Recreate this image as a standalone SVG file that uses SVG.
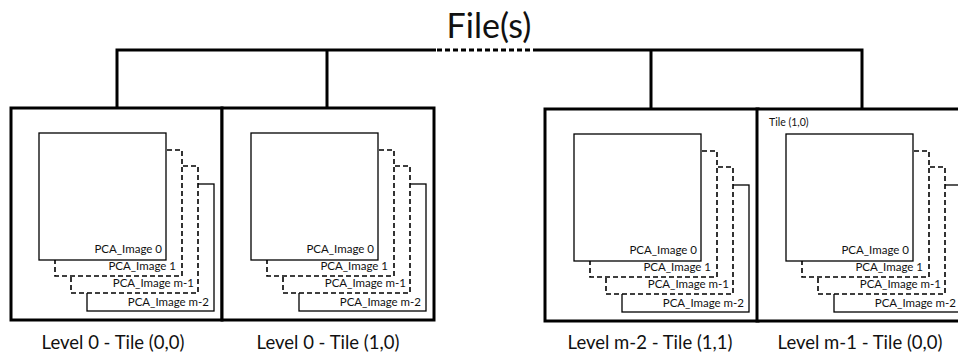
<svg xmlns="http://www.w3.org/2000/svg" width="958" height="358" viewBox="0 0 958 358">
<style>
.box{fill:#fff;stroke:#000;stroke-width:3}
.img{fill:#fff;stroke:#000;stroke-width:1.3}
.dash{fill:#fff;stroke:#000;stroke-width:1.6;stroke-dasharray:5,3}
.lbl{font-family:Lato,"Liberation Sans",sans-serif;font-size:11.5px;fill:#111;text-anchor:end}
.cap{font-family:Lato,"Liberation Sans",sans-serif;font-size:18.5px;fill:#111;text-anchor:middle}
.con{fill:none;stroke:#000;stroke-width:3}
</style>
<defs>
<g id="stack">
<rect class="img" x="48" y="51" width="127" height="127"/>
<rect class="dash" x="32" y="33" width="127" height="127"/>
<rect class="dash" x="16" y="17" width="127" height="126"/>
<rect class="img" x="0" y="0" width="127" height="127"/>
</g>
</defs>
<text x="489" y="38" style="font-family:Lato,'Liberation Sans',sans-serif;font-size:34px;fill:#111;text-anchor:middle">File(s)</text>
<g id="connectors">
<path class="con" d="M117,108 V50 H436 M538,50 H862 V108 M327,50 V108 M651,50 V108"/>
<path class="con" d="M437,50 H538" stroke-dasharray="5,3"/>
</g>
<g id="tile-0-0">
<rect class="box" x="11" y="108" width="211" height="212"/>
<g transform="translate(39,133)">
<use href="#stack"/>
<text class="lbl" x="123" y="120">PCA_Image 0</text>
<text class="lbl" x="137" y="137">PCA_Image 1</text>
<text class="lbl" x="155" y="154">PCA_Image m-1</text>
<text class="lbl" x="170" y="173">PCA_Image m-2</text>
</g>
<text class="cap" x="113" y="349">Level 0 - Tile (0,0)</text>
</g>
<g id="tile-1-0">
<rect class="box" x="222" y="108" width="212" height="212"/>
<g transform="translate(251,133)">
<use href="#stack"/>
<text class="lbl" x="123" y="120">PCA_Image 0</text>
<text class="lbl" x="137" y="137">PCA_Image 1</text>
<text class="lbl" x="155" y="154">PCA_Image m-1</text>
<text class="lbl" x="170" y="173">PCA_Image m-2</text>
</g>
<text class="cap" x="328" y="349">Level 0 - Tile (1,0)</text>
</g>
<g id="tile-m2-1-1">
<rect class="box" x="545" y="109" width="213" height="212"/>
<g transform="translate(574,134)">
<use href="#stack"/>
<text class="lbl" x="123" y="120">PCA_Image 0</text>
<text class="lbl" x="137" y="137">PCA_Image 1</text>
<text class="lbl" x="155" y="154">PCA_Image m-1</text>
<text class="lbl" x="170" y="173">PCA_Image m-2</text>
</g>
<text class="cap" x="650" y="349">Level m-2 - Tile (1,1)</text>
</g>
<g id="tile-m1-0-0">
<rect class="box" x="757" y="109" width="213" height="212"/>
<text x="769" y="126" style="font-family:Lato,'Liberation Sans',sans-serif;font-size:10.5px;fill:#111">Tile (1,0)</text>
<g transform="translate(786,134)">
<use href="#stack"/>
<text class="lbl" x="123" y="120">PCA_Image 0</text>
<text class="lbl" x="137" y="137">PCA_Image 1</text>
<text class="lbl" x="155" y="154">PCA_Image m-1</text>
<text class="lbl" x="170" y="173">PCA_Image m-2</text>
</g>
<text class="cap" x="860" y="349">Level m-1 - Tile (0,0)</text>
</g>
</svg>
